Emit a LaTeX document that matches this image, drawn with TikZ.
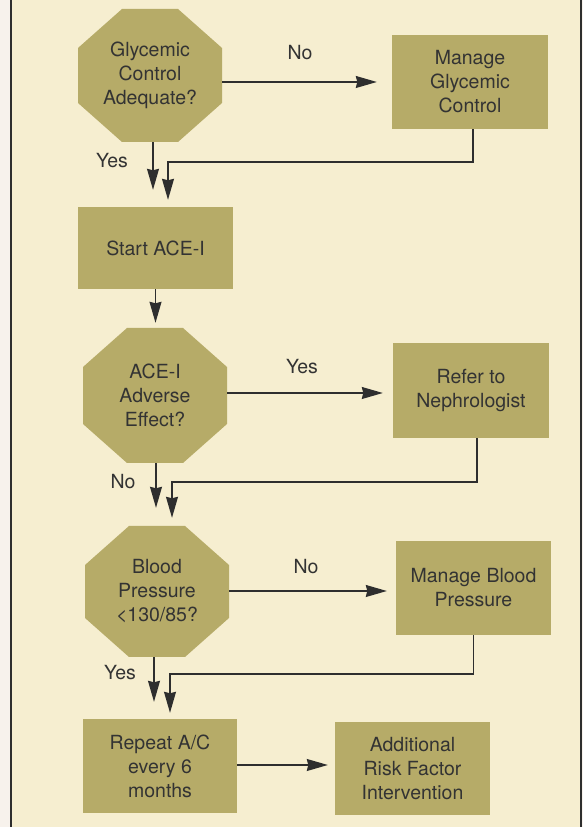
\documentclass[tikz,border=0pt]{standalone}
\usepackage{fontspec}
\setmainfont{TeX Gyre Heros}
\usetikzlibrary{arrows.meta}
\definecolor{pagecol}{HTML}{F6EED0}
\definecolor{margincol}{HTML}{F7F2EC}
\definecolor{boxfill}{HTML}{B6AB68}
\definecolor{linecol}{HTML}{2E2E2E}
\definecolor{textcol}{HTML}{333333}

\begin{document}
\begin{tikzpicture}[x=1pt,y=1pt,
  every node/.style={text=textcol, font=\fontsize{19.5}{24}\selectfont},
  process/.style={fill=boxfill, align=center, inner sep=0pt,
    minimum width=155pt, minimum height=94pt},
  decision/.style={fill=pagecol, align=center, inner sep=0pt, minimum width=144pt,
    path picture={\fill[boxfill]
      ([xshift=44pt]path picture bounding box.north west) --
      ([xshift=-44pt]path picture bounding box.north east) --
      ([yshift=-39pt]path picture bounding box.north east) --
      ([yshift=39pt]path picture bounding box.south east) --
      ([xshift=-44pt]path picture bounding box.south east) --
      ([xshift=44pt]path picture bounding box.south west) --
      ([yshift=39pt]path picture bounding box.south west) --
      ([yshift=-39pt]path picture bounding box.north west) -- cycle;}},
  flow/.style={draw=linecol, line width=1.3pt,
    -{Stealth[length=21pt,width=12pt,inset=1.5pt]}},
  lbl/.style={inner sep=0pt}]
\useasboundingbox (0,0) rectangle (583,827);

% Page and side rules
\fill[margincol] (0,0) rectangle (583,827);
\fill[pagecol] (11,0) rectangle (581,827);
\draw[linecol, line width=1.5pt] (11,0) -- (11,827);
\draw[linecol, line width=1.5pt] (581,0) -- (581,827);

% Glycemic control
\node[decision, minimum height=133pt] (gca) at (150,751.5) {Glycemic\\Control\\Adequate?};
\node[process, minimum width=156pt] (mgc) at (470,745) {Manage\\Glycemic\\Control};
\draw[flow, shorten >=15pt] (gca.east |- mgc.west) -- (mgc.west);
\node[lbl] (no1) at (300,774) {No};

% Start ACE-I
\node[process, minimum height=82pt] (start) at (155.5,579) {Start ACE-I};
\draw[flow, shorten >=17pt] ([xshift=3pt]gca.south) -- ([xshift=3pt]gca.south |- start.north);
\node[lbl] (yes1) at (112,666) {Yes};
\coordinate (j1) at (168,665);
\draw[flow, shorten >=7pt] ([xshift=3pt]mgc.south) |- (j1) -- (j1 |- start.north);

% Adverse effect
\node[decision, minimum height=135pt] (ace) at (155,431.5) {ACE-I\\Adverse\\Effect?};
\node[process, minimum width=156pt, minimum height=95pt] (ref) at (471,436.5) {Refer to\\Nephrologist};
\draw[flow, shorten >=5pt] (start.south) -- (start.south |- ace.north);
\draw[flow, shorten >=10pt] ([yshift=2.5pt]ace.east) -- ([yshift=2.5pt]ace.east -| ref.west);
\node[lbl] (yes2) at (302,460) {Yes};

% Blood pressure
\node[decision, minimum height=131pt] (bp) at (157,235.5) {Blood\\Pressure\\<130/85?};
\node[process] (mbp) at (473.5,239) {Manage Blood\\Pressure};
\draw[flow, shorten >=18pt] ([xshift=1pt]ace.south) -- ([xshift=1pt]ace.south |- bp.north);
\node[lbl] (no2) at (123,345) {No};
\coordinate (j2) at (172,345);
\draw[flow, shorten >=8pt] ([xshift=6pt]ref.south) |- (j2) -- (j2 |- bp.north);
\draw[flow, shorten >=9pt] ([yshift=0.5pt]bp.east) -- ([yshift=0.5pt]bp.east -| mbp.west);
\node[lbl] (no3) at (306,260) {No};

% Follow-up
\node[process, minimum width=154pt] (rep) at (160,61) {Repeat A/C\\every 6\\months};
\node[process, minimum height=93pt] (add) at (412.5,58.5) {Additional\\Risk Factor\\Intervention};
\draw[flow, shorten >=17pt] ([xshift=-3pt]bp.south) -- ([xshift=-3pt]bp.south |- rep.north);
\node[lbl] (yes3) at (120,154) {Yes};
\coordinate (j3) at (170,153);
\draw[flow, shorten >=6pt] (mbp.south) |- (j3) -- (j3 |- rep.north);
\draw[flow, shorten >=7pt] ([yshift=1pt]rep.east) -- ([yshift=1pt]rep.east -| add.west);

\end{tikzpicture}
\end{document}
